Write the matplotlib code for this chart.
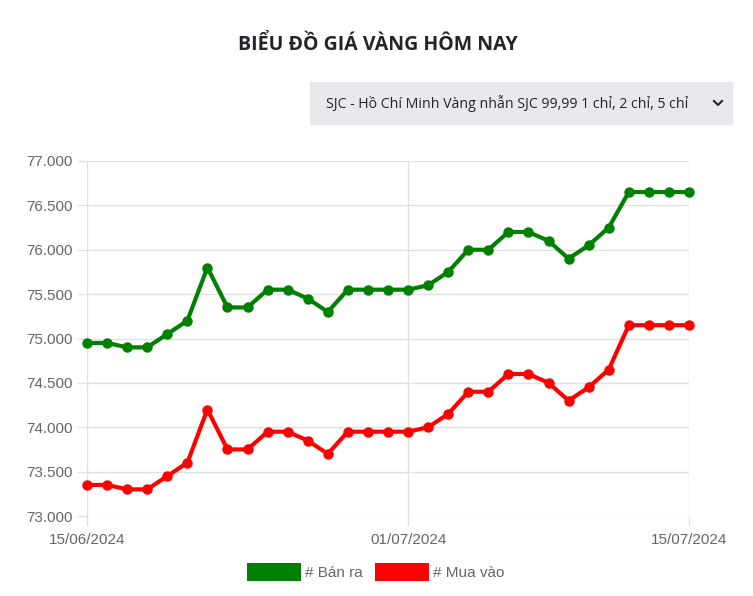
import matplotlib.pyplot as plt
from matplotlib.patches import Patch, Rectangle
from matplotlib.lines import Line2D
from matplotlib.ticker import FuncFormatter
import pandas as pd

# Gold prices (thousand VND / chỉ), SJC Hồ Chí Minh, 15/06/2024 - 15/07/2024
dates = pd.date_range('2024-06-15', '2024-07-15', freq='D')
ban_ra = [74950, 74950, 74900, 74900, 75050, 75200, 75800, 75350, 75350, 75550,
          75550, 75450, 75300, 75550, 75550, 75550, 75550, 75600, 75750, 76000,
          76000, 76200, 76200, 76100, 75900, 76050, 76250, 76650, 76650, 76650, 76650]
mua_vao = [73350, 73350, 73300, 73300, 73450, 73600, 74200, 73750, 73750, 73950,
           73950, 73850, 73700, 73950, 73950, 73950, 73950, 74000, 74150, 74400,
           74400, 74600, 74600, 74500, 74300, 74450, 74650, 75150, 75150, 75150, 75150]
tick_dates = ['2024-06-15', '2024-07-01', '2024-07-15']
title = 'BIỂU ĐỒ GIÁ VÀNG HÔM NAY'
product = 'SJC - Hồ Chí Minh Vàng nhẫn SJC 99,99 1 chỉ, 2 chỉ, 5 chỉ'

green, red = '#008000', '#ff0000'
grid_c = '#e1e1e1'
label_c = '#666666'

fig = plt.figure(figsize=(7.53, 5.96), dpi=100)
ax = fig.add_axes([87/753, 1-516/596, (689-87)/753, (516-161)/596])

ax.plot(dates, ban_ra, color=green, lw=3, marker='o', ms=6.5, zorder=3, clip_on=False)
ax.plot(dates, mua_vao, color=red, lw=3, marker='o', ms=6.5, zorder=3, clip_on=False)

ax.set_ylim(73000, 77000)
ax.set_yticks(range(73000, 77001, 500))
ax.yaxis.set_major_formatter(FuncFormatter(lambda v, p: f'{v:,.0f}'.replace(',', '.')))
ax.set_xlim(dates[0], dates[-1])
ax.set_xticks(pd.to_datetime(tick_dates))
ax.set_xticklabels([pd.Timestamp(d).strftime('%d/%m/%Y') for d in tick_dates])

ax.grid(True, color=grid_c, lw=1)
for s in ax.spines.values():
    s.set_visible(False)
ax.tick_params(colors=grid_c, labelcolor=label_c, labelsize=11, length=7, width=1, pad=3)
ax.tick_params(axis='x', pad=5)
for lab in ax.get_xticklabels() + ax.get_yticklabels():
    lab.set_fontfamily('Liberation Sans')

# title and product selector box
fig.text(378/753, 1-45/596, title, ha='center', va='center', fontsize=14,
         fontweight='bold', color='#212529', family='Open Sans')
fig.patches.append(Rectangle((310/753, 1-124/596), 422/753, 42/596,
                             transform=fig.transFigure, color='#e9e9ed', zorder=0))
fig.text(326/753, 1-104/596, product, ha='left', va='center', fontsize=10.2,
         color='#212529', family='Open Sans')
fig.lines.append(Line2D([714/753, 718/753, 722/753], [1-101/596, 1-105/596, 1-101/596],
                        transform=fig.transFigure, color='#212529', lw=1.5))

legend_items = [Patch(facecolor=green, label='# Bán ra'),
                Patch(facecolor=red, label='# Mua vào')]
leg = fig.legend(handles=legend_items, loc='center', bbox_to_anchor=(376/753, 1-572/596),
                 ncol=2, frameon=False, prop={'family': 'Liberation Sans', 'size': 11},
                 handlelength=3.5, handleheight=1.35, handletextpad=0.3, columnspacing=0.8)
for t in leg.get_texts():
    t.set_color(label_c)

fig.savefig('out.png', dpi=100, facecolor='white')
